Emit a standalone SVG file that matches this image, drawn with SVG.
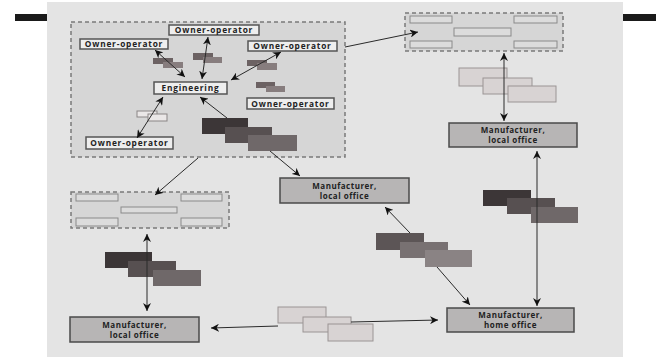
<svg xmlns="http://www.w3.org/2000/svg" width="656" height="357" viewBox="0 0 656 357">
<defs>
<marker id="ah" viewBox="0 0 10 10" refX="10" refY="5" markerWidth="8" markerHeight="8" markerUnits="userSpaceOnUse" orient="auto-start-reverse">
<path d="M0,0 L10,5 L0,10 L3,5 Z" fill="#111"/>
</marker>
<style>
.lbl{font-family:"Open Sans","DejaVu Sans",sans-serif;font-weight:bold;font-size:8.3px;fill:#222;text-anchor:middle;letter-spacing:0.8px}
.mlbl{font-family:"Open Sans","DejaVu Sans",sans-serif;font-weight:bold;font-size:8px;fill:#222;text-anchor:middle;letter-spacing:0.5px}
.own{fill:#eeeeee;stroke:#555;stroke-width:1.5}
.mfr{fill:#b7b5b5;stroke:#4a4a4a;stroke-width:1.5}
.dash{fill:#d6d6d6;stroke:#7a7a7a;stroke-width:1.5;stroke-dasharray:4 3}
.slot{fill:#dcdcdc;stroke:#8a8a8a;stroke-width:1}
.pale{fill:#d8d3d3;stroke:#9a9494;stroke-width:1}
.wht{fill:#eae7e7;stroke:#8a8585;stroke-width:1}
.d1{fill:#3c3637}
.d2{fill:#575051}
.d3{fill:#6f6869}
.m1{fill:#5c5556}
.m2{fill:#787172}
.m3{fill:#8a8384}
.s1{fill:#6c6263}
.s2{fill:#877d7e}
.cn{stroke:#2a2a2a;stroke-width:1;fill:none}
</style>
</defs>
<rect x="0" y="0" width="656" height="357" fill="#ffffff"/>
<rect x="47" y="2" width="576" height="355" fill="#e4e4e4"/>
<rect x="15" y="14" width="32" height="7" fill="#1a1a1a"/>
<rect x="623" y="14" width="33" height="7" fill="#1a1a1a"/>

<g id="engineering-group">
<rect class="dash" x="71" y="22" width="274" height="135"/>
</g>

<g id="owner-top"><rect class="own" x="169" y="25" width="90" height="10"/><text class="lbl" x="214" y="33">Owner-operator</text></g>
<g id="owner-left"><rect class="own" x="80" y="39" width="88" height="10"/><text class="lbl" x="124" y="47">Owner-operator</text></g>
<g id="owner-right-top"><rect class="own" x="248" y="41" width="89" height="10"/><text class="lbl" x="292.5" y="49">Owner-operator</text></g>
<g id="engineering"><rect class="own" x="154" y="82" width="73" height="12"/><text class="lbl" x="190.5" y="91">Engineering</text></g>
<g id="owner-right-mid"><rect class="own" x="247" y="98" width="87" height="11"/><text class="lbl" x="290.5" y="106.5">Owner-operator</text></g>
<g id="owner-bottom"><rect class="own" x="86" y="137" width="87" height="12"/><text class="lbl" x="129.5" y="146">Owner-operator</text></g>

<g id="docs-left"><rect class="s1" x="153" y="58" width="20" height="6"/><rect class="s2" x="163" y="62" width="20" height="6"/></g>
<g id="docs-top"><rect class="s1" x="193" y="53" width="20" height="7"/><rect class="s2" x="203" y="57" width="19" height="6"/></g>
<g id="docs-right"><rect class="s1" x="247" y="60" width="20" height="6"/><rect class="s2" x="257" y="63" width="20" height="7"/></g>
<g id="docs-right-mid"><rect class="s1" x="256" y="82" width="19" height="6"/><rect class="s2" x="266" y="86" width="19" height="6"/></g>
<g id="docs-bottom"><rect class="wht" x="137" y="111" width="20" height="6"/><rect class="wht" x="148" y="114" width="19" height="7"/></g>
<g id="docs-big"><rect class="d1" x="202" y="118" width="46" height="16"/><rect class="d2" x="225" y="127" width="47" height="16"/><rect class="d3" x="248" y="135" width="49" height="16"/></g>

<g id="store-top-right">
<rect class="dash" x="405" y="13" width="158" height="38"/>
<rect class="slot" x="410" y="16" width="42" height="7"/>
<rect class="slot" x="514" y="16" width="43" height="7"/>
<rect class="slot" x="454" y="28" width="57" height="8"/>
<rect class="slot" x="410" y="41" width="42" height="7"/>
<rect class="slot" x="514" y="41" width="43" height="7"/>
</g>
<g id="docs-top-right"><rect class="pale" x="459" y="68" width="48" height="18"/><rect class="pale" x="483" y="78" width="49" height="16"/><rect class="pale" x="508" y="86" width="48" height="16"/></g>
<g id="mfr-local-right"><rect class="mfr" x="449" y="123" width="128" height="24"/><text class="mlbl" x="513" y="133">Manufacturer,</text><text class="mlbl" x="513" y="143">local office</text></g>

<g id="store-bottom-left">
<rect class="dash" x="71" y="192" width="158" height="36"/>
<rect class="slot" x="76" y="194" width="42" height="7"/>
<rect class="slot" x="181" y="194" width="41" height="7"/>
<rect class="slot" x="121" y="207" width="56" height="6"/>
<rect class="slot" x="76" y="218" width="42" height="8"/>
<rect class="slot" x="181" y="218" width="41" height="8"/>
</g>
<g id="docs-left-col"><rect class="d1" x="105" y="252" width="47" height="16"/><rect class="d2" x="128" y="261" width="48" height="16"/><rect class="d3" x="153" y="270" width="48" height="16"/></g>
<g id="mfr-local-left"><rect class="mfr" x="70" y="317" width="129" height="25"/><text class="mlbl" x="134.5" y="327.5">Manufacturer,</text><text class="mlbl" x="134.5" y="337.5">local office</text></g>

<g id="mfr-local-center"><rect class="mfr" x="280" y="178" width="129" height="25"/><text class="mlbl" x="344.5" y="188.5">Manufacturer,</text><text class="mlbl" x="344.5" y="198.5">local office</text></g>
<g id="docs-center"><rect class="m1" x="376" y="233" width="48" height="17"/><rect class="m2" x="400" y="242" width="48" height="16"/><rect class="m3" x="425" y="250" width="47" height="17"/></g>
<g id="docs-right-col"><rect class="d1" x="483" y="190" width="48" height="16"/><rect class="d2" x="507" y="198" width="48" height="16"/><rect class="d3" x="531" y="207" width="47" height="16"/></g>
<g id="docs-bottom-row"><rect class="pale" x="278" y="307" width="48" height="16"/><rect class="pale" x="303" y="317" width="48" height="15"/><rect class="pale" x="328" y="324" width="45" height="17"/></g>
<g id="mfr-home"><rect class="mfr" x="447" y="308" width="127" height="24"/><text class="mlbl" x="510.5" y="318">Manufacturer,</text><text class="mlbl" x="510.5" y="328">home office</text></g>

<g id="connectors">
<line class="cn" x1="155" y1="50" x2="185" y2="77" marker-start="url(#ah)" marker-end="url(#ah)"/>
<line class="cn" x1="208" y1="37" x2="202" y2="79" marker-start="url(#ah)" marker-end="url(#ah)"/>
<line class="cn" x1="281" y1="52" x2="231" y2="80" marker-start="url(#ah)" marker-end="url(#ah)"/>
<line class="cn" x1="137" y1="138" x2="163" y2="97" marker-start="url(#ah)" marker-end="url(#ah)"/>
<line class="cn" x1="227" y1="118" x2="200" y2="97" marker-end="url(#ah)"/>
<line class="cn" x1="270" y1="151" x2="300" y2="176" marker-end="url(#ah)"/>
<line class="cn" x1="198" y1="158" x2="155" y2="195" marker-end="url(#ah)"/>
<line class="cn" x1="345" y1="47" x2="418" y2="32" marker-end="url(#ah)"/>
<line class="cn" x1="504" y1="53" x2="504" y2="121" marker-start="url(#ah)" marker-end="url(#ah)"/>
<line class="cn" x1="147" y1="234" x2="147" y2="311" marker-start="url(#ah)" marker-end="url(#ah)"/>
<line class="cn" x1="537" y1="151" x2="537" y2="306" marker-start="url(#ah)" marker-end="url(#ah)"/>
<line class="cn" x1="410" y1="233" x2="385" y2="207" marker-end="url(#ah)"/>
<line class="cn" x1="437" y1="267" x2="470" y2="305" marker-end="url(#ah)"/>
<line class="cn" x1="278" y1="326" x2="211" y2="328" marker-end="url(#ah)"/>
<line class="cn" x1="351" y1="322" x2="438" y2="320" marker-end="url(#ah)"/>
</g>
</svg>
